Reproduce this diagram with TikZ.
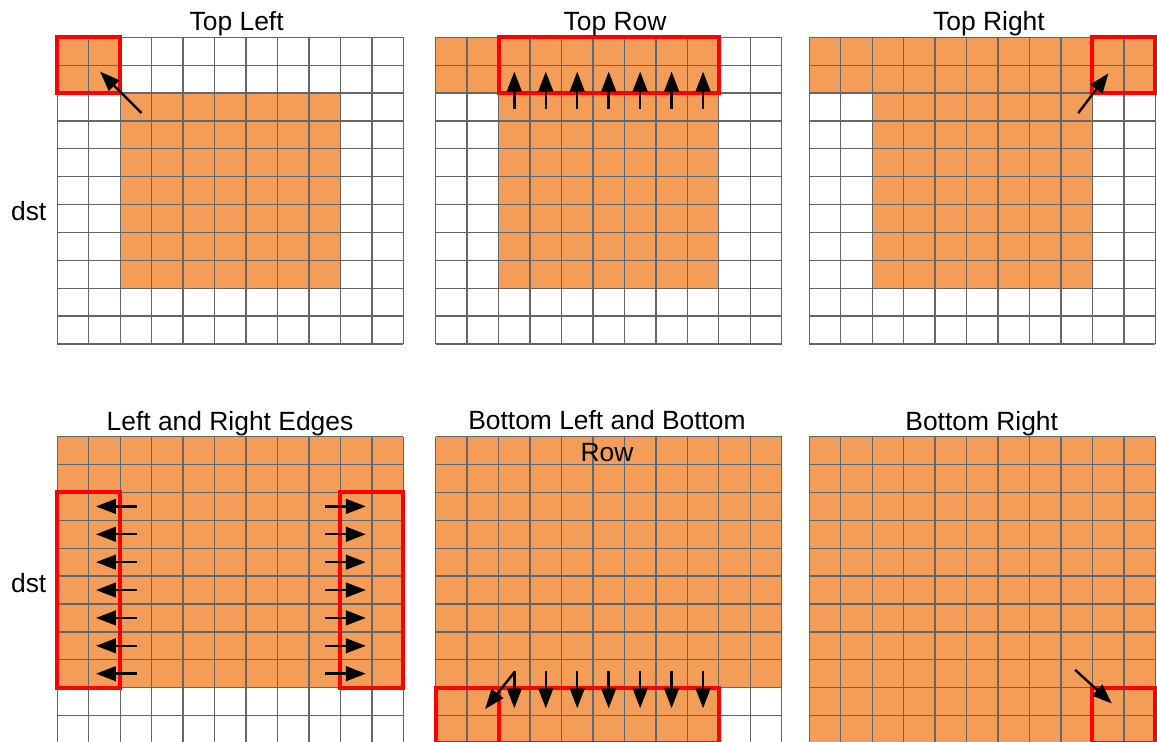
\documentclass[tikz,border=0pt]{standalone}
\usepackage{fontspec}
\setmainfont{Liberation Sans}
\usetikzlibrary{arrows.meta}

\definecolor{tileorange}{RGB}{243,157,89}
\definecolor{linegray}{RGB}{102,102,102}
\definecolor{boxred}{RGB}{255,0,0}

\tikzset{
  panel/.style={shift={#1}, x=23.59pt, y=-20.91pt},
  tile/.style={fill=tileorange},
  gridline/.style={draw=linegray, line width=1pt},
  redbox/.style={draw=boxred, line width=3pt},
  move/.style={->, line width=1.8pt},
  title/.style={font=\fontsize{19.8}{23.8}\selectfont, anchor=base, inner sep=0pt},
}

% 11 x 11 cells, drawn in the units of the enclosing panel
\newcommand{\cellgrid}{%
  \foreach \i in {0,...,11}{
    \draw[gridline] (\i,0) -- (\i,11);
    \draw[gridline] (0,\i) -- (11,\i);
  }}

\begin{document}
\begin{tikzpicture}[x=0.75pt, y=-0.75pt, >={Triangle[length=15pt,width=11pt]}]
  \useasboundingbox (0,0) rectangle (1157,742);
  \clip (0,0) rectangle (1157,742);

  % top left corner
  \begin{scope}[panel={(57.3,37.3)}]
    \fill[tile] (0,0) rectangle (2,2);
    \fill[tile] (2,2) rectangle (9,9);
    \cellgrid
    \draw[redbox] (0,0) rectangle (2,2);
    \draw[move] (2.68,2.72) -- (1.36,1.23);
  \end{scope}

  % top row
  \begin{scope}[panel={(435.7,37.3)}]
    \fill[tile] (0,0) rectangle (9,2);
    \fill[tile] (2,2) rectangle (9,9);
    \cellgrid
    \draw[redbox] (2,0) rectangle (9,2);
    \foreach \c in {2,...,8}
      \draw[move] (\c+0.5,2.58) -- (\c+0.5,1.23);
  \end{scope}

  % top right corner
  \begin{scope}[panel={(809.3,37.3)}]
    \fill[tile] (0,0) rectangle (11,2);
    \fill[tile] (2,2) rectangle (9,9);
    \cellgrid
    \draw[redbox] (9,0) rectangle (11,2);
    \draw[move] (8.55,2.72) -- (9.51,1.29);
  \end{scope}

  % left and right edges
  \begin{scope}[panel={(57.3,436.7)}]
    \fill[tile] (0,0) rectangle (11,9);
    \cellgrid
    \draw[redbox] (0,2) rectangle (2,9);
    \draw[redbox] (9,2) rectangle (11,9);
    \foreach \r in {2,...,8}{
      \draw[move] (2.52,\r+0.5) -- (1.23,\r+0.5);
      \draw[move] (8.52,\r+0.5) -- (9.81,\r+0.5);
    }
  \end{scope}

  % bottom left corner and bottom row
  \begin{scope}[panel={(435.7,436.7)}]
    \fill[tile] (0,0) rectangle (11,9);
    \fill[tile] (0,9) rectangle (9,11);
    \cellgrid
    \draw[redbox] (0,9) rectangle (2,11);
    \draw[redbox] (2,9) rectangle (9,11);
    \foreach \c in {2,...,8}
      \draw[move] (\c+0.5,8.42) -- (\c+0.5,9.74);
    \draw[move] (2.52,8.42) -- (1.57,9.77);
  \end{scope}

  % bottom right corner
  \begin{scope}[panel={(809.3,436.7)}]
    \fill[tile] (0,0) rectangle (11,11);
    \cellgrid
    \draw[redbox] (9,9) rectangle (11,11);
    \draw[move] (8.45,8.36) -- (9.62,9.57);
  \end{scope}

  % titles and side labels (on top, the long title runs into its grid)
  \node[title] (tl) at (236.7,31) {Top Left};
  \node[title] (tr) at (615,30.7) {Top Row};
  \node[title] (tri) at (989,30.7) {Top Right};
  \node[title] (lre) at (230,430) {Left and Right Edges};
  \node[title, align=center, anchor=north] (blr) at (607,410.2) {Bottom Left and Bottom\\Row};
  \node[title] (br) at (981.7,430) {Bottom Right};
  \node[title] (dsta) at (28.7,220) {dst};
  \node[title] (dstb) at (28.7,592.7) {dst};
\end{tikzpicture}
\end{document}
